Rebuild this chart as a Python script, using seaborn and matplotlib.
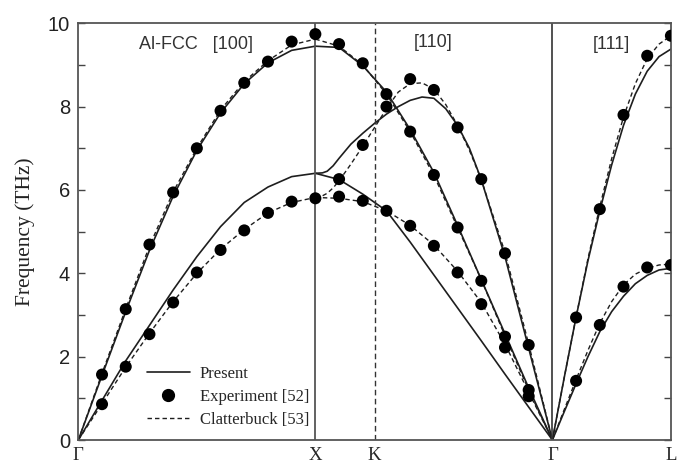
import numpy as np
import pandas as pd
import matplotlib
matplotlib.use("Agg")
import matplotlib.pyplot as plt
from matplotlib.lines import Line2D
from matplotlib.ticker import MultipleLocator
import seaborn as sns

# path coordinate: Gamma=0, X=1, K=1.25, Gamma=2, L=2.5
sym_pos = [0.0, 1.0, 1.25, 2.0, 2.5]
sym_lab = ["Γ", "X", "K", "Γ", "L"]

# ---- [100]  Gamma -> X
x100 = [0.0, 0.1, 0.2, 0.3, 0.4, 0.5, 0.6, 0.7, 0.8, 0.9, 1.0]
pres_100_L = [0, 1.55, 3.08, 4.55, 5.85, 6.95, 7.85, 8.55, 9.05, 9.35, 9.45]
pres_100_T = [0, 0.95, 1.9, 2.75, 3.6, 4.4, 5.12, 5.7, 6.07, 6.32, 6.4]
clat_100_L = [0, 1.6, 3.15, 4.65, 5.95, 7.0, 7.92, 8.6, 9.1, 9.48, 9.62]
clat_100_T = [0, 0.87, 1.75, 2.56, 3.32, 4.0, 4.58, 5.05, 5.45, 5.7, 5.82]
xexp_100 = [0.1, 0.2, 0.3, 0.4, 0.5, 0.6, 0.7, 0.8, 0.9, 1.0]
exp_100_L = [1.57, 3.14, 4.69, 5.94, 7.0, 7.9, 8.57, 9.08, 9.56, 9.74]
exp_100_T = [0.86, 1.76, 2.54, 3.3, 4.02, 4.56, 5.03, 5.45, 5.72, 5.8]

# ---- [110]  X -> K -> Gamma
x110 = [1.0, 1.1, 1.2, 1.3, 1.4, 1.5, 1.6, 1.7, 1.8, 1.9, 2.0]
pres_110_up = [9.45, 9.42, 8.98, 8.35, 7.45, 6.42, 5.15, 3.85, 2.55, 1.25, 0]
clat_110_up = [9.62, 9.45, 9.0, 8.3, 7.4, 6.35, 5.1, 3.85, 2.5, 1.2, 0]
pres_110_low = [6.4, 6.25, 5.9, 5.5, 4.75, 3.96, 3.17, 2.38, 1.58, 0.79, 0]
clat_110_low = [5.82, 5.8, 5.72, 5.5, 5.15, 4.68, 4.05, 3.3, 2.3, 1.15, 0]
x110_mid = [1.0, 1.03, 1.05, 1.075, 1.1, 1.15, 1.2, 1.25, 1.3, 1.35, 1.4, 1.45, 1.5,
            1.55, 1.6, 1.65, 1.7, 1.8, 1.9, 2.0]
pres_110_mid = [6.4, 6.41, 6.45, 6.58, 6.76, 7.1, 7.36, 7.6, 7.82, 8.0, 8.15, 8.23, 8.2,
                7.95, 7.55, 7.0, 6.25, 4.4, 2.2, 0]
clat_110_mid = [5.82, 5.86, 5.92, 6.05, 6.22, 6.62, 7.05, 7.5, 7.95, 8.35, 8.55, 8.57, 8.42,
                8.05, 7.55, 6.95, 6.25, 4.5, 2.3, 0]
xexp_110 = [1.1, 1.2, 1.3, 1.4, 1.5, 1.6, 1.7, 1.8, 1.9]
exp_110_up = [9.5, 9.04, 8.3, 7.4, 6.36, 5.1, 3.82, 2.48, 1.2]
exp_110_mid = [6.26, 7.08, 8.0, 8.66, 8.4, 7.5, 6.26, 4.48, 2.28]
exp_110_low = [5.84, 5.74, 5.5, 5.14, 4.66, 4.02, 3.26, 2.22, 1.05]

# ---- [111]  Gamma -> L
x111 = [2.0, 2.05, 2.1, 2.15, 2.2, 2.25, 2.3, 2.35, 2.4, 2.45, 2.5]
pres_111_L = [0, 1.5, 2.95, 4.3, 5.5, 6.6, 7.55, 8.3, 8.85, 9.2, 9.38]
clat_111_L = [0, 1.5, 2.95, 4.35, 5.6, 6.75, 7.75, 8.55, 9.15, 9.5, 9.7]
pres_111_T = [0, 0.68, 1.35, 2.0, 2.6, 3.08, 3.45, 3.75, 3.95, 4.08, 4.12]
clat_111_T = [0, 0.73, 1.45, 2.15, 2.8, 3.32, 3.72, 3.98, 4.12, 4.2, 4.22]
xexp_111 = [2.1, 2.2, 2.3, 2.4, 2.5]
exp_111_L = [2.94, 5.54, 7.8, 9.22, 9.7]
exp_111_T = [1.42, 2.76, 3.68, 4.14, 4.2]

sns.set_style("ticks")
plt.rcParams["font.family"] = ["Liberation Sans", "DejaVu Sans"]

fig = plt.figure(figsize=(6.77, 4.68), dpi=100)
ax = fig.add_axes([0.1157, 0.0598, 0.8753, 0.8905])

ink = "#1e1e1e"
dash = (0, (3.2, 2.2))

present = [(x100, pres_100_L), (x100, pres_100_T), (x110, pres_110_up),
           (x110, pres_110_low), (x110_mid, pres_110_mid),
           (x111, pres_111_L), (x111, pres_111_T)]
clatter = [(x100, clat_100_L), (x100, clat_100_T), (x110, clat_110_up),
           (x110, clat_110_low), (x110_mid, clat_110_mid),
           (x111, clat_111_L), (x111, clat_111_T)]
experiment = [(xexp_100, exp_100_L), (xexp_100, exp_100_T),
              (xexp_110, exp_110_up), (xexp_110, exp_110_mid), (xexp_110, exp_110_low),
              (xexp_111, exp_111_L), (xexp_111, exp_111_T)]

for xs, ys in present:
    sns.lineplot(x=xs, y=ys, ax=ax, color=ink, lw=1.2, sort=False, estimator=None)
for xs, ys in clatter:
    sns.lineplot(x=xs, y=ys, ax=ax, color=ink, lw=1.0, linestyle=dash,
                 sort=False, estimator=None)
for xs, ys in experiment:
    sns.scatterplot(x=xs, y=ys, ax=ax, color="black", s=75, edgecolor="none",
                    zorder=5)

# high-symmetry dividers
ax.axvline(1.0, color="#555555", lw=1.3)
ax.axvline(1.25, color="#333333", lw=1.0, linestyle=(0, (4, 2.5)))
ax.axvline(2.0, color="#333333", lw=1.2)

ax.set_xlim(0, 2.5)
ax.set_ylim(0, 10)
ax.set_xticks(sym_pos)
ax.set_xticklabels(sym_lab, family="Liberation Serif", fontsize=13.5)
ax.tick_params(axis="x", length=0, pad=5)
ax.yaxis.set_major_locator(MultipleLocator(2))
ax.yaxis.set_minor_locator(MultipleLocator(1))
ax.tick_params(axis="y", which="both", direction="in", right=True, length=5,
               width=1.0, color="#444444", labelsize=14.5, pad=6, labelcolor="#222222")
ax.set_ylabel("Frequency (THz)", family="Liberation Serif", fontsize=15.5,
              color="#222222", labelpad=9)
for sp in ax.spines.values():
    sp.set_color("#555555")
    sp.set_linewidth(1.3)

txt = dict(fontsize=13, color="#333333", ha="center", va="center")
ax.text(0.497, 9.48, "Al-FCC   [100]", **txt)
ax.text(1.496, 9.55, "[110]", **txt)
ax.text(2.25, 9.5, "[111]", **txt)

handles = [Line2D([], [], color=ink, lw=1.2),
           Line2D([], [], color="black", marker="o", ms=8.5, lw=0),
           Line2D([], [], color=ink, lw=1.0, linestyle=dash)]
ax.legend(handles, ["Present", "Experiment [52]", "Clatterbuck [53]"],
          loc="lower left", bbox_to_anchor=(0.09, -0.006), frameon=False,
          prop={"family": "Liberation Serif", "size": 12}, handlelength=2.6,
          handletextpad=0.6, labelspacing=0.4)

fig.savefig("out.png", dpi=100)
